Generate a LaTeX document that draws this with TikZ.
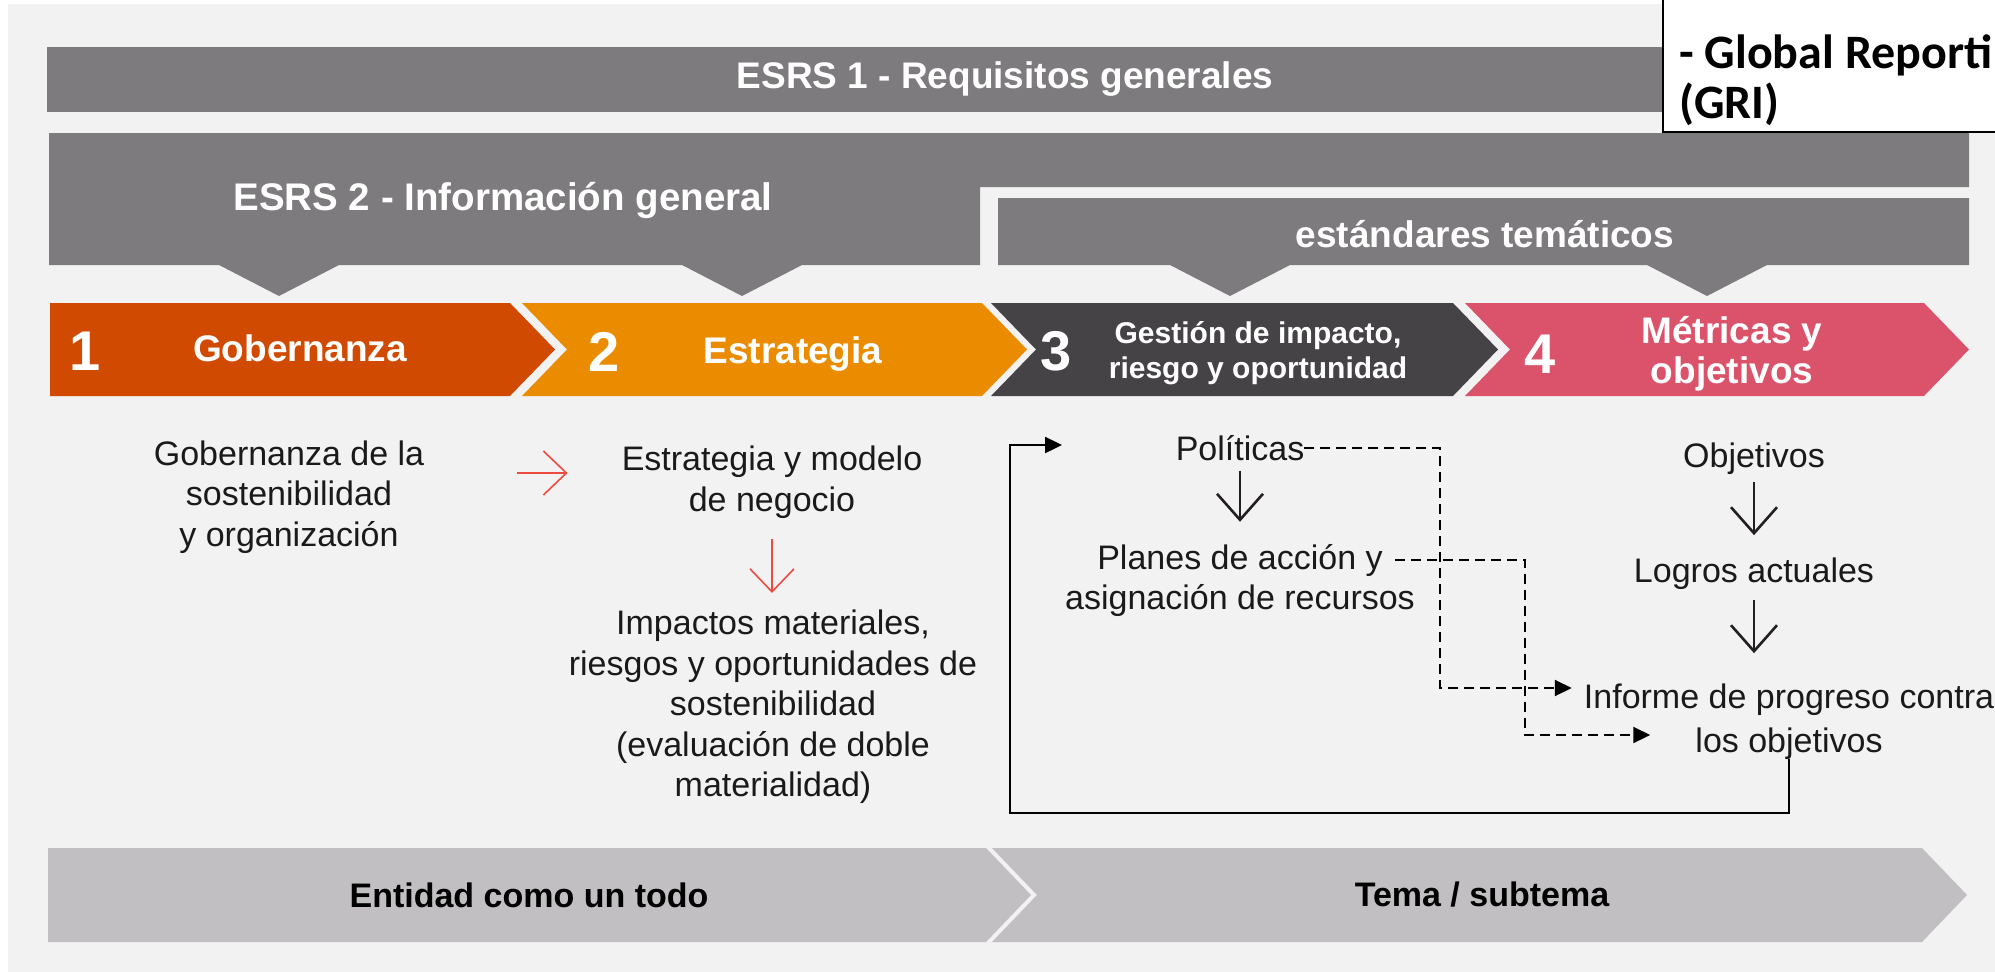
\documentclass[tikz,border=0pt]{standalone}
\usepackage{fontspec}
\setmainfont{Liberation Sans}
\newfontfamily\calib{Carlito}
\usetikzlibrary{arrows.meta}
\definecolor{bg}{HTML}{F2F2F2}
\definecolor{bargray}{HTML}{7E7B7E}
\definecolor{cOne}{HTML}{D04A02}
\definecolor{cTwo}{HTML}{EB8C00}
\definecolor{cThree}{HTML}{464347}
\definecolor{cFour}{HTML}{DB536A}
\definecolor{lowgray}{HTML}{C1BFC1}
\definecolor{redarrow}{HTML}{EE4B40}
\definecolor{inkblack}{HTML}{231F20}
\definecolor{bodyink}{HTML}{1A1A1A}
\begin{document}
\begin{tikzpicture}[x=1pt,y=-1pt,
  bartitle/.style={text=white,font=\bfseries\fontsize{37}{40}\selectfont,inner sep=0pt},
  chevtitle/.style={text=white,font=\bfseries\fontsize{37}{40}\selectfont,inner sep=0pt,align=center},
  digit/.style={text=white,font=\bfseries\fontsize{56}{60}\selectfont,inner sep=0pt},
  body/.style={text=bodyink,font=\fontsize{34}{40.5}\selectfont,inner sep=0pt,align=center},
  lowtitle/.style={text=black,font=\bfseries\fontsize{34}{40}\selectfont,inner sep=0pt},
  gri/.style={text=black,font=\calib\bfseries\fontsize{48}{57}\selectfont,inner sep=0pt},
  redarr/.style={draw=redarrow,line width=1.6pt,-{Straight Barb[length=23pt,width=44pt]}},
  blkarr/.style={draw=inkblack,line width=2.6pt,-{Straight Barb[length=26pt,width=46pt]}},
  loopline/.style={draw=black,line width=2.4pt,-{Triangle[length=17pt,width=16pt]}},
  dashline/.style={draw=black,line width=2pt,dash pattern=on 10pt off 6pt,-{Triangle[length=17pt,width=16pt]}},
]
\useasboundingbox (0,0) rectangle (1995,972);
\clip (0,0) rectangle (1995,972);
\fill[white] (0,0) rectangle (1995,972);
\fill[bg] (8,4) rectangle (1995,972);
% ESRS 1 bar
\fill[bargray] (47,47) rectangle (1969,112);
% ESRS 2 L-shape with pointers
\fill[bargray] (49,133) -- (1969,133) -- (1969,187) -- (980,187) -- (980,265)
  -- (802,265) -- (742,296) -- (682,265) -- (339,265) -- (279,296) -- (219,265)
  -- (49,265) -- cycle;
% thematic standards bar
\fill[bargray] (998,198) -- (1969,198) -- (1969,265) -- (1767,265) -- (1707,296)
  -- (1647,265) -- (1290,265) -- (1230,296) -- (1170,265) -- (998,265) -- cycle;
% chevrons
\fill[cOne] (50,303) -- (510,303) -- (555,349.5) -- (510,396) -- (50,396) -- cycle;
\fill[cTwo] (522,303) -- (982,303) -- (1027,349.5) -- (982,396) -- (522,396) -- (567,349.5) -- cycle;
\fill[cThree] (991,303) -- (1453,303) -- (1498,349.5) -- (1453,396) -- (991,396) -- (1036,349.5) -- cycle;
\fill[cFour] (1465,303) -- (1924,303) -- (1969,349.5) -- (1924,396) -- (1465,396) -- (1510,349.5) -- cycle;
% bottom bar
\fill[lowgray] (48,848) -- (986,848) -- (1031,895) -- (986,942) -- (48,942) -- cycle;
\fill[lowgray] (992,848) -- (1922,848) -- (1967,895) -- (1922,942) -- (992,942) -- (1037,895) -- cycle;

% titles
\node[bartitle] (esrs1) at (1005,79) {ESRS 1 - Requisitos generales};
\node[bartitle,font=\bfseries\fontsize{38.5}{40}\selectfont] (esrs2) at (503,200) {ESRS 2 - Información general};
\node[bartitle] (tema) at (1485,234) {estándares temáticos};

% chevron labels
\node[digit] (n1) at (85,351) {1};
\node[chevtitle] (t1) at (300,348) {Gobernanza};
\node[digit] (n2) at (604,352) {2};
\node[chevtitle] (t2) at (793,354) {Estrategia};
\node[digit] (n3) at (1056,351) {3};
\node[chevtitle,font=\bfseries\fontsize{30}{35}\selectfont] (t3) at (1258,353) {Gestión de impacto,\\riesgo y oportunidad};
\node[digit] (n4) at (1540,354) {4};
\node[chevtitle] (t4) at (1732,354) {Métricas y\\objetivos};

% bottom labels
\node[lowtitle] (ent) at (529,895) {Entidad como un todo};
\node[lowtitle] (tst) at (1482,895) {Tema / subtema};

% body texts
\node[body] (gov) at (289,497) {Gobernanza de la\\sostenibilidad\\y organización};
\node[body] (est) at (772,482) {Estrategia y modelo\\de negocio};
\node[body] (imp) at (773,707) {Impactos materiales,\\riesgos y oportunidades de\\sostenibilidad\\(evaluación de doble\\materialidad)};
\node[body,anchor=base] (pol) at (1240,460) {Políticas};
\node[body,anchor=base] (plA) at (1240,569) {Planes de acción y};
\node[body,anchor=base] (plB) at (1240,609) {asignación de recursos};
\node[body,anchor=base] (obj) at (1754,467) {Objetivos};
\node[body,anchor=base] (log) at (1754,582) {Logros actuales};
\node[body,anchor=base] (infA) at (1789,708) {Informe de progreso contra};
\node[body,anchor=base] (infB) at (1789,752) {los objetivos};

% red arrows
\coordinate (ra) at (517,473);
\draw[redarr,shorten >=54pt] (ra) -- (ra -| est.west);
\draw[redarr,shorten <=21pt,shorten >=17pt] (est.south) -- (est.south |- imp.north);

% black arrows
\draw[blkarr,shorten <=10pt,shorten >=22pt] (pol.south) -- (plA.north);
\draw[blkarr,shorten <=8pt,shorten >=22pt] (obj.south) -- (log.north);
\draw[blkarr,shorten <=11pt,shorten >=30pt] (log.south) -- (log.south |- infA.north);

% dashed connectors
\coordinate (dc1) at (1440,688);
\coordinate (dc2) at (1525,735);
\draw[dashline,shorten >=12pt] (pol.east) -| (dc1) -- (dc1 -| infA.west);
\draw[dashline,shorten <=12pt,shorten >=45pt] (plA.east) -| (dc2) -- (dc2 -| infB.west);

% feedback loop
\coordinate (lb) at (1010,813);
\coordinate (le) at (1062,445);
\draw[loopline] (infB.south) |- (lb) |- (le);

% GRI box
\draw[line width=2pt,fill=white] (1663,-20) rectangle (2030,132);
\node[gri,anchor=base west] (g1) at (1679,68) {- Global Reporti};
\node[gri,anchor=base west] (g2) at (1679,118) {(GRI)};
\end{tikzpicture}
\end{document}
